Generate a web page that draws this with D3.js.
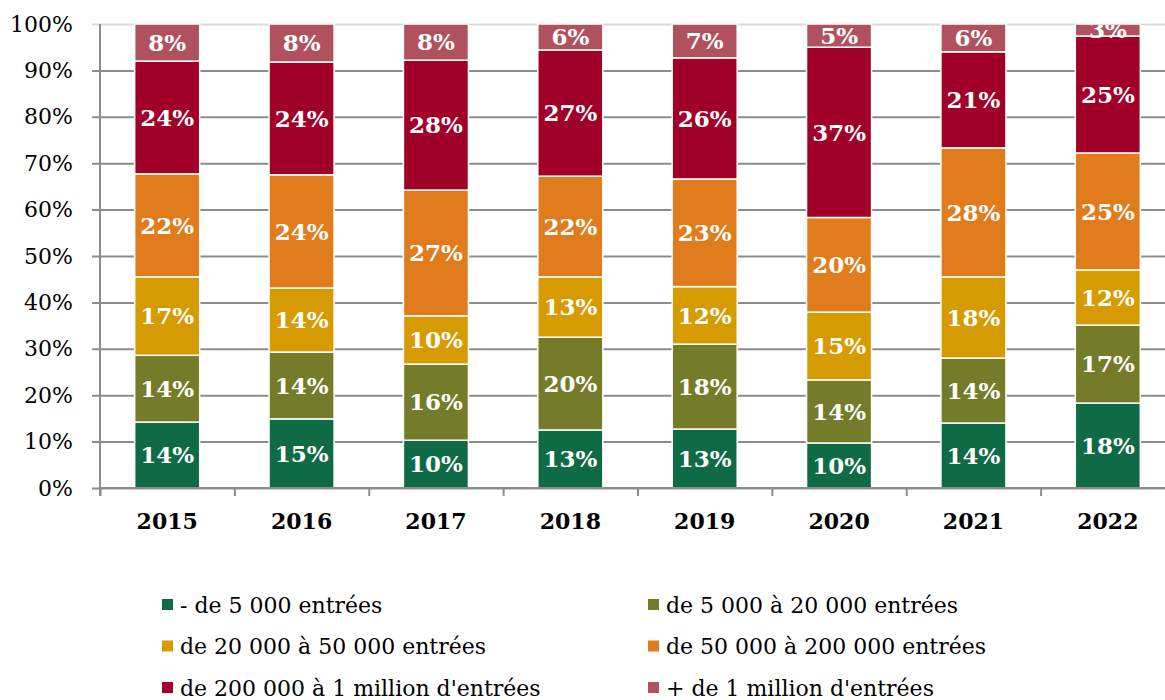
<!DOCTYPE html>
<html>
<head>
<meta charset="utf-8">
<script src="https://cdn.jsdelivr.net/npm/d3@7"></script>
<style>
    body { margin: 0; background: #fff; }
    svg { display: block; font-family: 'DejaVu Serif', serif; }
</style>
</head>
<body>
<div class="vis-stacked"></div>
<script>
const years = ['2015', '2016', '2017', '2018', '2019', '2020', '2021', '2022'];
const seriesNames = [
    '- de 5 000 entrées',
    'de 5 000 à 20 000 entrées',
    'de 20 000 à 50 000 entrées',
    'de 50 000 à 200 000 entrées',
    "de 200 000 à 1 million d'entrées",
    "+ de 1 million d'entrées"
];
const colors = ['#0e6b45', '#747c29', '#d69b00', '#e07c1b', '#a10029', '#b0525e'];

// shares (%), one array per series
const lt5k      = [14.2, 14.9, 10.3, 12.5, 12.7,  9.7, 14.0, 18.3];
const k5to20    = [14.4, 14.4, 16.4, 20.0, 18.3, 13.6, 14.0, 16.8];
const k20to50   = [16.9, 13.8, 10.4, 13.0, 12.4, 14.6, 17.5, 11.9];
const k50to200  = [22.2, 24.4, 27.1, 21.7, 23.2, 20.4, 27.8, 25.2];
const k200to1m  = [24.3, 24.3, 28.0, 27.2, 26.1, 36.7, 20.7, 25.2];
const gt1m      = [ 8.0,  8.2,  7.8,  5.6,  7.3,  5.0,  6.0,  2.6];
const yTicks = [0, 10, 20, 30, 40, 50, 60, 70, 80, 90, 100];

const values = [lt5k, k5to20, k20to50, k50to200, k200to1m, gt1m];
const font = "'DejaVu Serif', serif";

const draw = (outerWidth, outerHeight) => {
    const margin = {top: 24, left: 100};
    const width = 1075;
    const height = 464;

    const root = d3.select('.vis-stacked').append('svg')
        .attr('width', outerWidth)
        .attr('height', outerHeight);
    const svg = root.append('g')
        .attr('transform', 'translate(' + margin.left + ',' + margin.top + ')');

    const x = d3.scaleBand()
        .domain(years)
        .range([0, width])
        .paddingInner(0.516)
        .paddingOuter(0.258);
    const y = d3.scaleLinear()
        .domain([0, 100])
        .range([height, 0]);

    // gridlines + y axis
    const yAxis = svg.append('g')
        .call(d3.axisLeft(y).tickValues(yTicks).tickSize(-width).tickFormat(d => d + '%'))
        .attr('font-family', font);
    yAxis.select('.domain').remove();
    yAxis.selectAll('.tick line')
        .attr('x1', -8)
        .attr('stroke', d => d === 100 ? '#d9d9d9' : '#8c8c8c')
        .attr('stroke-width', 2);
    yAxis.selectAll('.tick text')
        .attr('x', -27)
        .attr('font-size', 22)
        .attr('fill', '#000');

    // build rows for the stack
    const table = years.map((yr, i) => {
        const row = {year: yr};
        seriesNames.forEach((s, j) => { row[s] = values[j][i]; });
        return row;
    });
    const stacked = d3.stack().keys(seriesNames)(table);

    svg.append('clipPath').attr('id', 'plot-clip')
        .append('rect').attr('x', -10).attr('y', 1).attr('width', width + 20).attr('height', height + 10);

    const layers = svg.selectAll('.layer')
        .data(stacked)
        .enter().append('g')
        .attr('class', 'layer')
        .attr('fill', (d, i) => colors[i]);

    layers.selectAll('rect')
        .data(d => d)
        .enter().append('rect')
        .attr('x', d => x(d.data.year))
        .attr('width', x.bandwidth())
        .attr('y', d => y(d[1]))
        .attr('height', d => y(d[0]) - y(d[1]))
        .attr('stroke', '#fff')
        .attr('stroke-width', 1.5);

    layers.selectAll('text')
        .data(d => d)
        .enter().append('text')
        .attr('clip-path', 'url(#plot-clip)')
        .attr('x', d => x(d.data.year) + x.bandwidth() / 2)
        .attr('y', d => (y(d[0]) + y(d[1])) / 2)
        .attr('dy', '0.36em')
        .attr('text-anchor', 'middle')
        .attr('font-size', 23)
        .attr('font-weight', 'bold')
        .attr('fill', '#fff')
        .text(d => Math.round(d[1] - d[0]) + '%');

    // left axis line
    svg.append('line')
        .attr('x1', 0).attr('x2', 0)
        .attr('y1', 0).attr('y2', height + 8)
        .attr('stroke', '#8c8c8c')
        .attr('stroke-width', 2);

    // x axis: ticks between categories
    const xb = d3.scaleLinear().domain([0, years.length]).range([0, width]);
    const xAxis = svg.append('g')
        .attr('transform', 'translate(0,' + height + ')')
        .call(d3.axisBottom(xb).ticks(years.length).tickSize(8).tickFormat(''));
    xAxis.select('.domain')
        .attr('stroke', '#8c8c8c').attr('stroke-width', 2)
        .attr('d', 'M0,0H' + width);
    xAxis.selectAll('.tick line').attr('stroke', '#8c8c8c').attr('stroke-width', 2);

    svg.append('g')
        .attr('transform', 'translate(0,' + height + ')')
        .call(d3.axisBottom(x).tickSize(0).tickPadding(25))
        .attr('font-family', font)
        .call(g => g.select('.domain').remove())
        .selectAll('text')
        .attr('font-size', 22)
        .attr('font-weight', 'bold')
        .attr('fill', '#000');

    // legend
    const legend = root.append('g').attr('class', 'legend');
    const item = legend.selectAll('g')
        .data(seriesNames)
        .enter().append('g')
        .attr('transform', (d, i) => 'translate(' + (i % 2 === 0 ? 162 : 648) + ',' + (605 + Math.floor(i / 2) * 41.5) + ')');
    item.append('rect')
        .attr('x', 0).attr('y', -6)
        .attr('width', 11).attr('height', 11)
        .attr('fill', (d, i) => colors[i]);
    item.append('text')
        .attr('x', 18)
        .attr('dy', '0.35em')
        .attr('font-size', 22)
        .attr('fill', '#000')
        .text(d => d);
};

draw(1165, 700);
</script>
</body>
</html>
